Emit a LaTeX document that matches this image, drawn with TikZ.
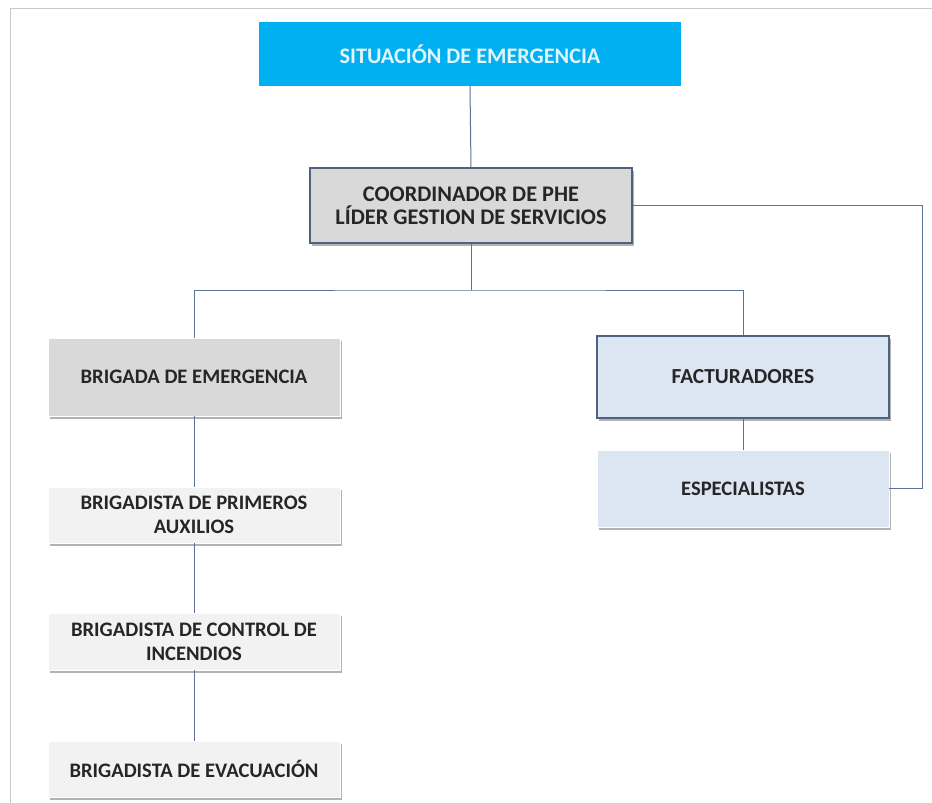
\documentclass[tikz,border=0pt]{standalone}
\usepackage{fontspec}
\setmainfont{Carlito}
\usetikzlibrary{shadows}
\definecolor{topblue}{RGB}{0,176,240}
\definecolor{lgray}{RGB}{217,217,217}
\definecolor{vlgray}{RGB}{242,242,242}
\definecolor{lblue}{RGB}{220,230,242}
\definecolor{edgeblue}{RGB}{79,98,128}
\definecolor{linecol}{RGB}{90,115,150}
\definecolor{txt}{RGB}{38,38,38}
\definecolor{frame}{RGB}{200,200,200}
\definecolor{toptxt}{RGB}{225,245,255}
\tikzset{
  box/.style={rectangle, inner sep=0pt, align=center, font=\bfseries\fontsize{20.6}{24}\selectfont, text=txt,
    draw=white, line width=0.6pt,
    drop shadow={shadow xshift=2pt, shadow yshift=-3pt, fill=black, opacity=0.3}},
  darkedge/.style={draw=edgeblue, line width=1.3pt},
  conn/.style={draw=linecol, line width=1pt},
}
\begin{document}
\begin{tikzpicture}[x=1pt,y=-1pt]
\useasboundingbox (0,0) rectangle (932,803);
\fill[white] (0,0) rectangle (932,803);
\draw[frame, line width=1pt] (932,8) -- (10,8) -- (10,803);

\node[rectangle, inner sep=0pt, fill=topblue, minimum width=422pt, minimum height=64pt, text=toptxt,
  font=\bfseries\fontsize{22.2}{26}\selectfont] (top) at (470,54) {SITUACIÓN DE EMERGENCIA};

\node[box, darkedge, fill=lgray, minimum width=322pt, minimum height=75pt, font=\bfseries\fontsize{22.3}{23}\selectfont] (coord) at (471,205.5)
  {COORDINADOR DE PHE\\LÍDER GESTION DE SERVICIOS};

\node[box, fill=lgray, minimum width=292pt, minimum height=78pt] (brig) at (194,377) {BRIGADA DE EMERGENCIA};
\node[box, darkedge, fill=lblue, minimum width=292pt, minimum height=82pt, font=\bfseries\fontsize{21.4}{24}\selectfont] (fact) at (743,377) {FACTURADORES};
\node[box, fill=lblue, minimum width=292pt, minimum height=77pt] (esp) at (743,488.5) {ESPECIALISTAS};

\node[box, fill=vlgray, minimum width=292pt, minimum height=56pt] (prim) at (194,515) {BRIGADISTA DE PRIMEROS\\AUXILIOS};
\node[box, fill=vlgray, minimum width=292pt, minimum height=57pt] (inc) at (194,641.5) {BRIGADISTA DE CONTROL DE\\INCENDIOS};
\node[box, fill=vlgray, minimum width=292pt, minimum height=56pt] (eva) at (194,769) {BRIGADISTA DE EVACUACIÓN};

\coordinate (split) at (471,290);
\coordinate (rc) at (922,205.5);

\draw[conn] (top.south) -- (coord.north);
\draw[conn] (coord.south) -- (split);
\draw[conn] (brig.north) |- (split) -| (fact.north);
\draw[conn] (coord.east) -- (rc) |- (esp.east);
\draw[conn] (fact.south) -- (esp.north);
\draw[conn] (brig.south) -- (prim.north);
\draw[conn] (prim.south) -- (inc.north);
\draw[conn] (inc.south) -- (eva.north);
\end{tikzpicture}
\end{document}
